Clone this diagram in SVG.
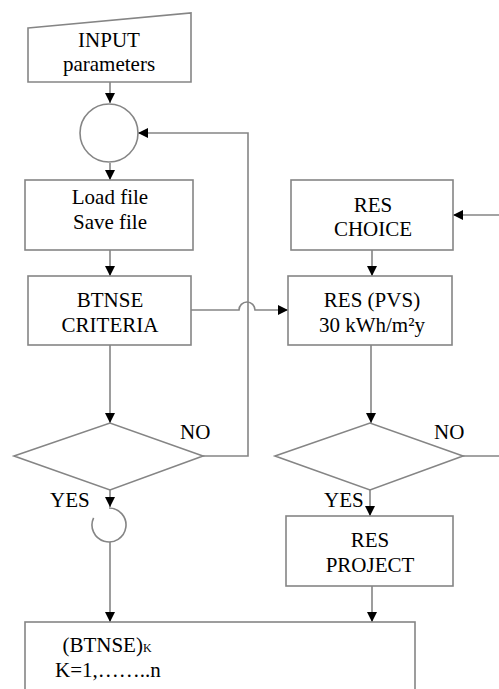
<svg xmlns="http://www.w3.org/2000/svg" width="499" height="689" viewBox="0 0 499 689">
<style>
.box{fill:#fff;stroke:#858585;stroke-width:1.6}
.ln{fill:none;stroke:#858585;stroke-width:1.6}
text{font-family:'Liberation Serif','Times New Roman',serif;font-size:21px;fill:#000;text-anchor:middle}
.lbl{text-anchor:start}
</style>
<defs>
<marker id="ah" markerWidth="10" markerHeight="10" refX="10" refY="5" orient="auto" markerUnits="userSpaceOnUse">
<path d="M0,0 L10,5 L0,10 Z" fill="#000"/>
</marker>
</defs>
<rect width="499" height="689" fill="#fff"/>
<g id="connectors">
<path class="ln" d="M110,82 V103" marker-end="url(#ah)"/>
<path class="ln" d="M110,163 V180" marker-end="url(#ah)"/>
<path class="ln" d="M110,250 V276" marker-end="url(#ah)"/>
<path class="ln" d="M110,345 V423" marker-end="url(#ah)"/>
<path class="ln" d="M203,456 H248 V133 H138" marker-end="url(#ah)"/>
<path class="ln" d="M191,310 H239 A8,8 0 0 1 255,310 H288" marker-end="url(#ah)"/>
<path class="ln" d="M110,490 V507" marker-end="url(#ah)"/>
<path class="ln" d="M110,542 V622" marker-end="url(#ah)"/>
<path class="ln" d="M499,215 H453" marker-end="url(#ah)"/>
<path class="ln" d="M372,250 V276" marker-end="url(#ah)"/>
<path class="ln" d="M371,345 V423" marker-end="url(#ah)"/>
<path class="ln" d="M463,456 H499"/>
<path class="ln" d="M370,490 V516" marker-end="url(#ah)"/>
<path class="ln" d="M372,586 V622" marker-end="url(#ah)"/>
</g>
<g id="input">
<path class="box" d="M28,28 L191,13 V82 H28 Z"/>
<text x="109" y="47">INPUT</text>
<text x="109" y="71">parameters</text>
</g>
<g id="junction1">
<circle class="box" cx="109" cy="133" r="29"/>
</g>
<g id="loadfile">
<rect class="box" x="25" y="180" width="168" height="70"/>
<text x="110" y="204">Load file</text>
<text x="110" y="229">Save file</text>
</g>
<g id="btnse">
<rect class="box" x="28" y="276" width="163" height="69"/>
<text x="110" y="307">BTNSE</text>
<text x="110" y="332">CRITERIA</text>
</g>
<g id="decision1">
<path class="box" d="M14,456 L110,423 L203,456 L110,490 Z"/>
<text class="lbl" x="180" y="439">NO</text>
<text class="lbl" x="50" y="507">YES</text>
</g>
<g id="junction2">
<path class="ln" d="M109,508 A17,17 0 1 1 93.6,517.8"/>
</g>
<g id="reschoice">
<rect class="box" x="291" y="180" width="162" height="70"/>
<text x="373" y="212">RES</text>
<text x="373" y="236">CHOICE</text>
</g>
<g id="respvs">
<rect class="box" x="288" y="276" width="164" height="69"/>
<text x="372" y="307">RES (PVS)</text>
<text x="372" y="332">30 kWh/m²y</text>
</g>
<g id="decision2">
<path class="box" d="M275,456 L370,423 L463,456 L370,490 Z"/>
<text class="lbl" x="434" y="439">NO</text>
<text class="lbl" x="324" y="507">YES</text>
</g>
<g id="resproject">
<rect class="box" x="286" y="516" width="167" height="70"/>
<text x="370" y="547">RES</text>
<text x="370" y="572">PROJECT</text>
</g>
<g id="btnsek">
<rect class="box" x="25" y="622" width="390" height="80"/>
<text x="107" y="652">(BTNSE)<tspan font-size="12">K</tspan></text>
<text x="108" y="677">K=1,……..n</text>
</g>
</svg>
